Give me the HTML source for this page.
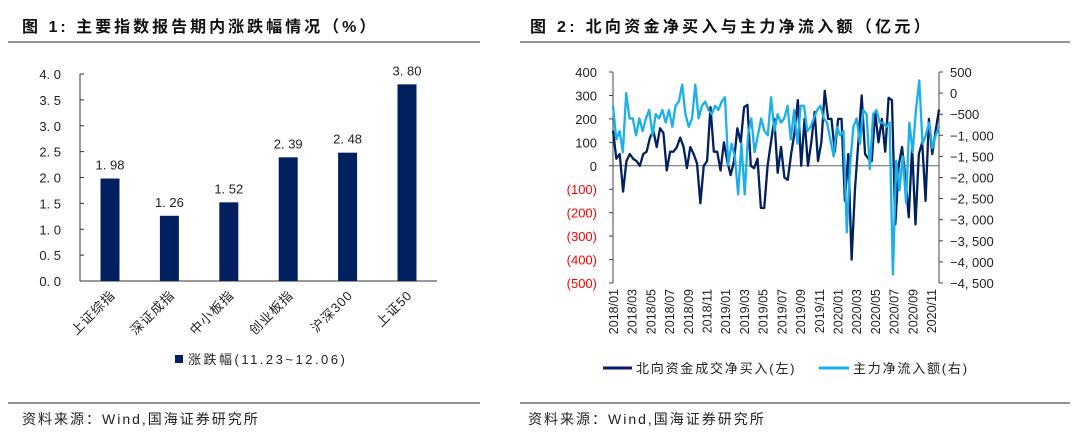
<!DOCTYPE html>
<html><head><meta charset="utf-8"><style>
body{margin:0;background:#fff;width:1080px;height:440px;overflow:hidden;font-family:"Liberation Sans","Noto Sans CJK SC",sans-serif}
svg{position:absolute;left:0;top:0}
</style></head><body>
<svg id="s" width="1080" height="440" font-family="Liberation Sans, Noto Sans CJK SC, sans-serif">
<text x="22" y="32" font-size="16" font-weight="bold" letter-spacing="3" fill="#111">图 1:  主要指数报告期内涨跌幅情况（%）</text>
<line x1="8" y1="42" x2="480" y2="42" stroke="#555" stroke-width="1.3"/>
<text x="530" y="32" font-size="16" font-weight="bold" letter-spacing="3.3" fill="#111">图 2:  北向资金净买入与主力净流入额（亿元）</text>
<line x1="520" y1="42" x2="1070" y2="42" stroke="#555" stroke-width="1.3"/>
<line x1="8" y1="403" x2="480" y2="403" stroke="#555" stroke-width="1.3"/>
<line x1="520" y1="403" x2="1070" y2="403" stroke="#555" stroke-width="1.3"/>
<text x="22" y="424" font-size="14" letter-spacing="2" fill="#222">资料来源：Wind,国海证券研究所</text>
<text x="528" y="424" font-size="14" letter-spacing="2" fill="#222">资料来源：Wind,国海证券研究所</text>
<g id="c1"></g><g id="c2"></g>
</svg>
<script>
const NS='http://www.w3.org/2000/svg';
function mk(p,t,a){const e=document.createElementNS(NS,t);for(const k in a)e.setAttribute(k,a[k]);p.appendChild(e);return e;}
// Chart 1 data
const cats=['上证综指','深证成指','中小板指','创业板指','沪深300','上证50'];
const vals=[1.98,1.26,1.52,2.39,2.48,3.80];
const yTicks1=[0,0.5,1,1.5,2,2.5,3,3.5,4];
const c1=document.getElementById('c1');
const y1=v=>281-v*51.75;
const x1=i=>110+i*59.4;
let ax=mk(c1,'line',{x1:80,y1:y1(4),x2:80,y2:281,stroke:'#333'});

let bx=mk(c1,'line',{x1:80,y1:281,x2:437,y2:281,stroke:'#333'});

yTicks1.forEach(v=>{
 const t=mk(c1,'line',{x1:80,y1:y1(v),x2:84,y2:y1(v),stroke:'#333'});
 
 const l=mk(c1,'text',{x:61,y:y1(v)+5,'font-size':13,'text-anchor':'end',fill:'#222'});
 l.textContent=v.toFixed(1).replace('.','. ');
 
});
cats.forEach((c,i)=>{
 const b=mk(c1,'rect',{x:x1(i)-9.5,y:y1(vals[i]),width:19,height:281-y1(vals[i]),fill:'#002060'});
 
 const l=mk(c1,'text',{x:x1(i),y:y1(vals[i])-9,'font-size':13,'text-anchor':'middle',fill:'#222'});
 l.textContent=vals[i].toFixed(2).replace('.','. ');
 
 const cl=mk(c1,'text',{x:0,y:0,'font-size':13,'text-anchor':'end',fill:'#222','letter-spacing':1,transform:`translate(${x1(i)+6},296) rotate(-45)`});
 cl.textContent=c;
 
});
let lg=mk(c1,'rect',{x:175,y:355,width:8,height:8,fill:'#002060'});

let lt=mk(c1,'text',{x:188,y:364,'font-size':13,'letter-spacing':2.5,fill:'#222'});lt.textContent='涨跌幅(11.23~12.06)';


// Chart 2 data
const north=[150,30,50,-110,20,50,30,20,0,50,60,120,150,80,160,140,-20,60,60,80,120,80,-10,80,50,10,-160,0,20,250,60,60,-20,100,20,-40,20,160,100,250,260,0,-10,30,-180,-180,0,100,200,-30,80,-50,-60,50,140,280,0,200,0,100,230,20,100,320,200,200,60,200,200,-150,50,-400,-100,100,300,50,30,20,230,100,200,60,290,280,-250,0,80,-50,-220,80,-250,50,100,-150,200,50,150,240];
const mainFlow=[-300,-1100,-900,-1400,0,-600,-600,-1000,-600,-900,-600,-400,-1000,-500,-600,-400,-700,-400,-800,-300,-200,200,-500,-800,-600,200,-600,-300,-200,-400,-500,-300,-400,-200,-100,-1700,-1200,-1500,-2400,-1200,-2400,-1000,-600,-1400,-1000,-600,-900,-1000,-100,-900,-500,-700,-600,-300,-1100,-400,-1200,-300,-300,-900,-800,-600,-400,-300,-600,-700,-1100,-1500,-800,-1000,-900,-3300,-1700,-800,-600,-1200,-400,-500,-1800,-500,-400,-700,-700,-800,-700,-4300,-1600,-2300,-1500,-2600,-700,-1400,-400,300,-1200,-1000,-700,-1300,-1000,-800];
const leftTicks=[400,300,200,100,0,-100,-200,-300,-400,-500];
const rightTicks=[500,0,-500,-1000,-1500,-2000,-2500,-3000,-3500,-4000,-4500];
const months=['2018/01','2018/03','2018/05','2018/07','2018/09','2018/11','2019/01','2019/03','2019/05','2019/07','2019/09','2019/11','2020/01','2020/03','2020/05','2020/07','2020/09','2020/11'];
const c2=document.getElementById('c2');
const X0=613,X1=939,YT=72,YB=283;
const yL=v=>YT+(400-v)/900*(YB-YT);
const yR=v=>YT+(500-v)/5000*(YB-YT);
const xs=(i,n)=>X0+i*(X1-X0)/(n-1);
let a1=mk(c2,'line',{x1:X0,y1:YT,x2:X0,y2:YB,stroke:'#444'});
let a2=mk(c2,'line',{x1:X1,y1:YT,x2:X1,y2:YB,stroke:'#444'});
let a3=mk(c2,'line',{x1:X0,y1:yL(0),x2:X1,y2:yL(0),stroke:'#666'});
leftTicks.forEach(v=>{
 const t=mk(c2,'line',{x1:X0-4,y1:yL(v),x2:X0,y2:yL(v),stroke:'#444'});
 const l=mk(c2,'text',{x:597,y:yL(v)+5,'font-size':13,'text-anchor':'end',fill:v<0?'#ff0000':'#222'});
 l.textContent=v<0?'('+(-v)+')':String(v);
 
});
rightTicks.forEach(v=>{
 const t=mk(c2,'line',{x1:X1,y1:yR(v),x2:X1+4,y2:yR(v),stroke:'#444'});
 const l=mk(c2,'text',{x:950,y:yR(v)+5,'font-size':13,fill:'#222'});
 const a=Math.abs(v);l.textContent=(v<0?'−':'')+(a>=1000?Math.floor(a/1000)+', '+String(a%1000).padStart(3,'0'):a);
 
});
months.forEach((m,i)=>{
 const x=614+i*(932-614)/(months.length-1);
 const l=mk(c2,'text',{x:0,y:0,'font-size':12.5,'text-anchor':'end',fill:'#222',transform:`translate(${x+4},289) rotate(-90)`});
 l.textContent=m;
});
function line(d,f,col,name){
 const p=mk(c2,'polyline',{points:d.map((v,i)=>xs(i,d.length)+','+f(v)).join(' '),fill:'none',stroke:col,'stroke-width':2.3,'stroke-linejoin':'round'});
 
}
line(north,yL,'#002060','north-flow-line');
line(mainFlow,yR,'#1ab0ea','main-flow-line');
let l1=mk(c2,'line',{x1:603,y1:368,x2:632,y2:368,stroke:'#002060','stroke-width':3});
let t1=mk(c2,'text',{x:636,y:373,'font-size':13,'letter-spacing':1.8,fill:'#222'});t1.textContent='北向资金成交净买入(左)';
let l2=mk(c2,'line',{x1:819,y1:368,x2:849,y2:368,stroke:'#1ab0ea','stroke-width':3});
let t2=mk(c2,'text',{x:853,y:373,'font-size':13,'letter-spacing':1.8,fill:'#222'});t2.textContent='主力净流入额(右)';
</script>
</body></html>
